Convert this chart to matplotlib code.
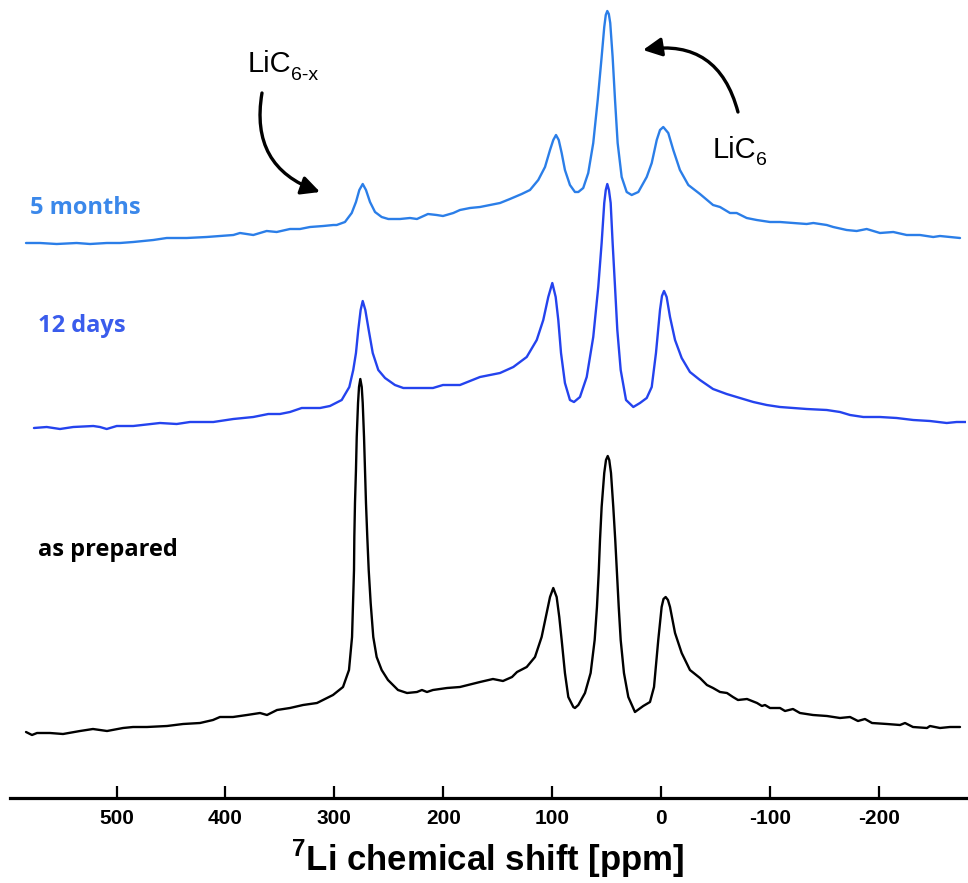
import matplotlib
matplotlib.use("Agg")
import matplotlib.pyplot as plt
from matplotlib.patches import FancyArrowPatch

plt.rcParams["font.family"] = ["Liberation Sans", "DejaVu Sans"]
plt.rcParams["mathtext.fontset"] = "custom"
plt.rcParams["mathtext.rm"] = "Liberation Sans"
plt.rcParams["mathtext.bf"] = "Liberation Sans:bold"

# 7Li MAS NMR spectra: chemical shift (ppm) and intensity (a.u., relative to each trace's baseline)
ppm_as_prepared = [583.1, 577.6, 573.0, 561.1, 549.1, 533.5, 521.6, 508.7, 494.0, 484.8,
                   472.0, 453.6, 438.9, 423.3, 411.4, 405.0, 393.0, 380.2, 368.2, 361.8,
                   352.6, 340.7, 328.7, 315.9, 306.7, 301.2,
                   292.0, 286.5, 283.7, 282.8, 281.9, 281.6, 281.0, 280.1, 279.4, 278.2,
                   277.3, 276.1, 274.8, 273.9, 272.7, 271.8, 270.9, 269.7, 268.4, 266.6,
                   264.2, 261.1, 256.5, 250.7, 241.5, 233.2, 224.1, 219.5, 214.9, 209.4,
                   196.5, 184.6, 166.2, 154.3, 145.1, 136.8, 132.2,
                   123.3, 115.7, 109.6, 105.0, 101.9, 98.9, 95.8, 93.4, 91.2, 88.2,
                   85.1, 80.5, 79.0, 75.9, 69.8, 64.6, 60.9, 58.8, 57.2, 56.0,
                   54.5, 52.1, 50.5, 48.9, 47.5, 45.9, 43.8, 42.0, 40.4, 38.8,
                   37.0, 34.0, 30.0, 23.9, 16.3, 10.1, 6.4, 2.5, -0.6, -2.3,
                   -4.3, -6.4, -8.3, -12.9, -19.0, -26.6, -35.8, -42.2, -47.8, -54.2,
                   -60.6, -66.1, -70.7, -79.0, -88.2, -92.7, -95.5, -100.1, -109.3, -113.9,
                   -121.2, -127.6, -139.6, -152.4, -164.4, -173.6, -180.9, -187.3, -193.8, -207.5,
                   -219.5, -224.1, -231.4, -244.3, -247.0, -256.2, -265.4, -274.6]
int_as_prepared = [-5, -8, -6, -6, -7, -4, -2, -4, -1, 0,
                   0, 1, 3, 4, 7, 10, 10, 12, 14, 12,
                   17, 19, 22, 24, 29, 32,
                   40, 57, 90, 124, 157, 190, 224, 257, 290, 324,
                   340, 348, 340, 324, 290, 257, 224, 190, 157, 124,
                   90, 70, 57, 47, 37, 34, 35, 37, 35, 37,
                   39, 40, 45, 48, 46, 50, 55,
                   60, 70, 90, 114, 130, 139, 130, 110, 87, 54,
                   30, 20, 19, 22, 34, 54, 87, 120, 154, 187,
                   220, 254, 267, 271, 267, 254, 220, 187, 154, 120,
                   87, 54, 30, 15, 21, 25, 40, 87, 120, 128,
                   130, 127, 120, 94, 74, 57, 49, 42, 39, 35,
                   34, 30, 27, 28, 24, 21, 22, 19, 19, 16,
                   18, 14, 12, 11, 9, 10, 6, 8, 4, 3,
                   2, 4, 0, -1, 1, -1, 0, 0]

ppm_12_days = [575.8, 564.1, 551.9, 539.7, 521.3, 515.2, 509.0, 499.8, 484.6, 460.1,
               444.7, 432.5, 411.1, 392.7, 374.4, 360.6, 349.9, 340.7, 329.9, 313.1,
               304.0, 293.2, 286.2, 282.6, 280.1, 278.0, 275.8, 273.9, 271.5, 268.4,
               264.7, 259.6, 253.4, 244.3, 236.6, 224.1, 209.4, 200.2, 184.6, 166.2,
               147.8, 135.6, 123.3, 114.1, 108.1, 103.5, 99.8, 96.7, 94.3, 91.8,
               88.2, 83.6, 79.9, 74.4, 68.2, 62.2, 57.6, 54.5, 52.1, 50.7,
               49.3, 47.8, 46.2, 44.4, 42.2, 40.1, 37.0, 32.1, 25.4, 19.3,
               13.1, 8.5, 4.6, 0.9, -0.9, -2.8, -5.2, -8.3, -12.9, -19.0,
               -26.6, -35.8, -47.8, -60.3, -72.5, -84.8, -97.1, -109.3, -121.5, -133.8,
               -152.2, -164.4, -173.6, -185.8, -201.1, -216.4, -231.7, -247.0, -262.4, -271.5,
               -280.7]
int_12_days = [-6, -5, -7, -5, -4, -5, -7, -4, -4, -1,
               -2, 0, 0, 3, 5, 8, 8, 10, 14, 14,
               16, 22, 35, 52, 69, 92, 112, 121, 112, 92,
               69, 52, 44, 37, 34, 34, 34, 37, 37, 45,
               49, 55, 65, 82, 102, 125, 139, 125, 102, 69,
               39, 22, 20, 25, 45, 85, 135, 179, 219, 232,
               238, 232, 219, 179, 135, 92, 52, 22, 15, 19,
               24, 35, 69, 112, 126, 131, 125, 105, 82, 64,
               50, 42, 33, 28, 24, 20, 17, 15, 14, 13,
               12, 10, 7, 5, 5, 4, 2, 1, -1, 0,
               0]

ppm_5_months = [583.1, 570.2, 554.9, 536.6, 524.3, 509.0, 496.8, 484.6, 466.2, 453.9,
                435.5, 417.2, 405.0, 392.7, 386.6, 374.4, 362.1, 352.9, 340.7, 331.5,
                322.3, 310.1, 300.9, 297.8, 290.2, 284.0, 280.1, 277.0, 273.9, 270.9,
                267.2, 262.6, 256.5, 250.4, 239.7, 230.5, 224.1, 214.0, 206.0, 200.2,
                190.7, 184.6, 175.4, 166.2, 147.8, 138.7, 127.9, 120.3, 112.7, 106.5,
                101.9, 98.9, 96.4, 93.9, 91.2, 88.2, 83.6, 79.0, 75.9, 71.4,
                66.8, 62.2, 58.1, 54.5, 52.1, 50.7, 49.3, 47.9, 46.6, 44.4,
                42.2, 39.8, 36.1, 31.5, 26.9, 20.8, 13.1, 8.5, 3.9, 0.9,
                -2.1, -6.7, -11.3, -17.4, -25.1, -35.8, -47.8, -54.2, -63.4, -69.5,
                -78.7, -87.9, -100.1, -109.3, -121.5, -133.8, -139.9, -152.2, -158.2, -170.5,
                -179.7, -188.9, -201.1, -213.3, -225.6, -237.8, -250.0, -256.2, -274.6]
int_5_months = [-5, -5, -6, -5, -6, -5, -5, -4, -2, 0,
                0, 1, 2, 3, 5, 3, 7, 6, 9, 9,
                11, 12, 13, 13, 16, 25, 36, 48, 54, 48,
                36, 26, 21, 19, 19, 20, 19, 24, 23, 22,
                25, 28, 30, 31, 35, 39, 44, 48, 58, 71,
                88, 98, 103, 98, 85, 68, 53, 46, 46, 50,
                65, 95, 138, 181, 211, 223, 227, 224, 215, 181,
                138, 95, 61, 46, 43, 46, 61, 75, 98, 108,
                111, 105, 88, 68, 53, 44, 33, 31, 25, 25,
                20, 18, 16, 16, 15, 14, 15, 13, 11, 8,
                7, 9, 5, 6, 3, 3, 1, 2, 0]

# vertical stacking offsets of the three traces
offset_as_prepared = 71
offset_12_days = 376
offset_5_months = 560

color_as_prepared = "#000000"
color_12_days = "#2443ee"
color_5_months = "#2b7ee8"

fig = plt.figure(figsize=(9.68, 8.83), dpi=100)
ax = fig.add_axes([10 / 968, 85 / 883, 956 / 968, 798 / 883])

line_kw = dict(lw=1.7, solid_joinstyle="round", solid_capstyle="round")
ax.plot(ppm_as_prepared, [v + offset_as_prepared for v in int_as_prepared],
        color=color_as_prepared, **line_kw)
ax.plot(ppm_12_days, [v + offset_12_days for v in int_12_days],
        color=color_12_days, **line_kw)
ax.plot(ppm_5_months, [v + offset_5_months for v in int_5_months],
        color=color_5_months, **line_kw)

ax.set_xlim(597.8, -280.1)
ax.set_ylim(0, 798)

for side in ("top", "left", "right"):
    ax.spines[side].set_visible(False)
ax.spines["bottom"].set_linewidth(2.3)
ax.set_yticks([])
ax.set_xticks([500, 400, 300, 200, 100, 0, -100, -200])
ax.set_xticklabels(["500", "400", "300", "200", "100", "0", "-100", "-200"],
                   fontweight="bold", fontsize=15)
ax.tick_params(axis="x", direction="in", length=9, width=1.6, pad=8)
ax.set_xlabel(r"$^{\mathbf{7}}$Li chemical shift [ppm]", fontsize=25,
              fontweight="bold", labelpad=7)

# series labels
label_font = ["Open Sans", "DejaVu Sans"]
ax.text(579.4, 590, "5 months", color="#3b88ea", fontsize=17, fontweight="bold",
        family=label_font, va="center", ha="left")
ax.text(572.1, 472, "12 days", color="#3a5cec", fontsize=17, fontweight="bold",
        family=label_font, va="center", ha="left")
ax.text(572.1, 248, "as prepared", color="black", fontsize=17, fontweight="bold",
        family=label_font, va="center", ha="left")

# peak assignments
ax.text(379.3, 726, "LiC", fontsize=21, ha="left", va="baseline")
ax.text(340.0, 718, "6-x", fontsize=14, ha="left", va="baseline")
ax.text(-47.8, 640, "LiC", fontsize=21, ha="left", va="baseline")
ax.text(-87.0, 633, "6", fontsize=14, ha="left", va="baseline")

arrow_kw = dict(arrowstyle="-|>,head_length=0.8,head_width=0.4", color="black",
                lw=2.4, mutation_scale=14, shrinkA=0, shrinkB=0)
ax.add_patch(FancyArrowPatch((366.4, 705), (313.1, 606),
                             connectionstyle="arc3,rad=0.42", **arrow_kw))
ax.add_patch(FancyArrowPatch((-70.7, 686), (16.5, 748),
                             connectionstyle="arc3,rad=0.45", **arrow_kw))

fig.savefig("out.png", dpi=100)
